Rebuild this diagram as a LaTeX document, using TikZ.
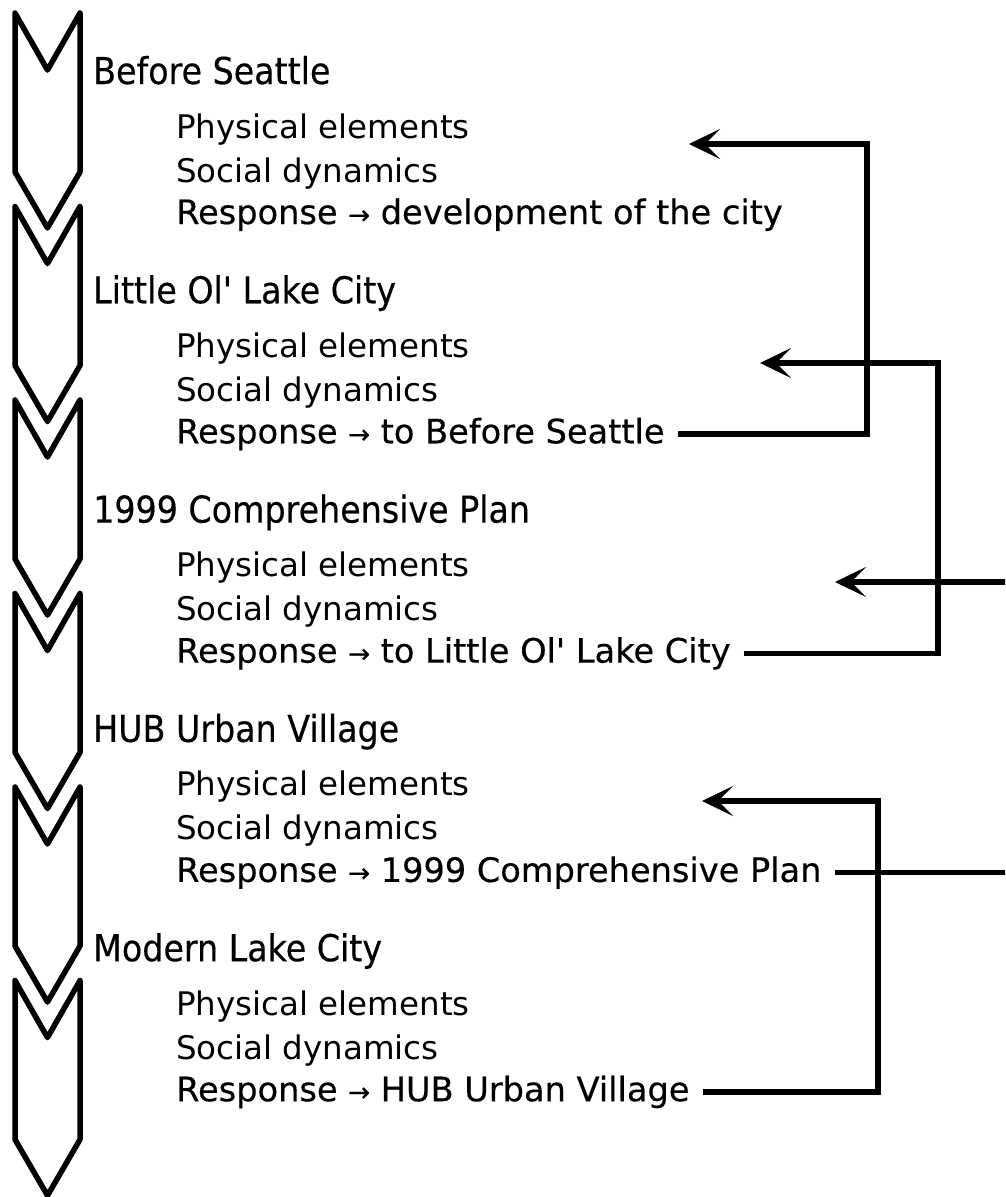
\documentclass[tikz,border=0pt]{standalone}
\usepackage{fontspec}
\usetikzlibrary{arrows.meta}
\newfontfamily\headfont[FakeStretch=0.9,FakeBold=0.4]{DejaVu Sans}
\newfontfamily\subfont{DejaVu Sans}
\newfontfamily\respfont[FakeBold=0.4]{DejaVu Sans}
\newcommand{\rarr}{{\fontsize{26pt}{26pt}\selectfont →}}
\tikzset{
  heading/.style={anchor=base west,inner sep=0pt,font=\headfont\fontsize{37pt}{40pt}\selectfont},
  subitem/.style={anchor=base west,inner sep=0pt,font=\subfont\fontsize{32.5pt}{36pt}\selectfont},
  respitem/.style={anchor=base west,inner sep=0pt,font=\respfont\fontsize{33.6pt}{36pt}\selectfont},
  chev/.style={line width=5.5pt,line join=round},
  conn/.style={line width=5.5pt},
  arr/.style={conn,-{Stealth[length=31pt,width=30pt,inset=15pt]}}
}
\begin{document}
\begin{tikzpicture}[x=1pt,y=-1pt]
\fill[white] (0,0) rectangle (1005,1197);
\clip (0,0) rectangle (1005,1197);
% chevrons
\foreach \i in {0,...,5}{
  \pgfmathsetmacro{\T}{13+193.5*\i}
  \draw[chev] (15,\T) -- (47.5,\T+57) -- (80,\T) -- (80,\T+159) -- (47.5,\T+215) -- (15,\T+159) -- cycle;
}
% text
\node[heading] (h1) at (93,84) {Before Seattle};
\node[subitem] (p1) at (176,138) {Physical elements};
\node[subitem] (s1) at (176,182) {Social dynamics};
\node[respitem] (r1) at (176,224) {Response \rarr{} development of the city};

\node[heading] (h2) at (93,303.3) {Little Ol' Lake City};
\node[subitem] (p2) at (176,357.3) {Physical elements};
\node[subitem] (s2) at (176,401.3) {Social dynamics};
\node[respitem] (r2) at (176,443.3) {Response \rarr{} to Before Seattle};

\node[heading] (h3) at (93,522.6) {1999 Comprehensive Plan};
\node[subitem] (p3) at (176,576.6) {Physical elements};
\node[subitem] (s3) at (176,620.6) {Social dynamics};
\node[respitem] (r3) at (176,662.6) {Response \rarr{} to Little Ol' Lake City};

\node[heading] (h4) at (93,741.9) {HUB Urban Village};
\node[subitem] (p4) at (176,795.9) {Physical elements};
\node[subitem] (s4) at (176,839.9) {Social dynamics};
\node[respitem] (r4) at (176,881.9) {Response \rarr{} 1999 Comprehensive Plan};

\node[heading] (h5) at (93,961.2) {Modern Lake City};
\node[subitem] (p5) at (176,1015.2) {Physical elements};
\node[subitem] (s5) at (176,1059.2) {Social dynamics};
\node[respitem] (r5) at (176,1101.2) {Response \rarr{} HUB Urban Village};

% connector coordinates
\coordinate (t1) at (689,144);
\coordinate (k1) at (867,144);
\coordinate (t2) at (760,363);
\coordinate (k2) at (938,363);
\coordinate (t3) at (835,582);
\coordinate (e3) at (1015,582);
\coordinate (e4) at (1015,0);
\coordinate (t4) at (702,801);
\coordinate (k4) at (878,801);

\draw[arr] ([xshift=13pt]r2.east) -| (k1) -- (t1);
\draw[arr] ([xshift=13pt]r3.east) -| (k2) -- (t2);
\draw[arr] (e3) -- (t3);
\draw[conn] ([xshift=13pt]r4.east) -- (r4.east -| e4);
\draw[arr] ([xshift=13pt]r5.east) -| (k4) -- (t4);
\end{tikzpicture}
\end{document}
